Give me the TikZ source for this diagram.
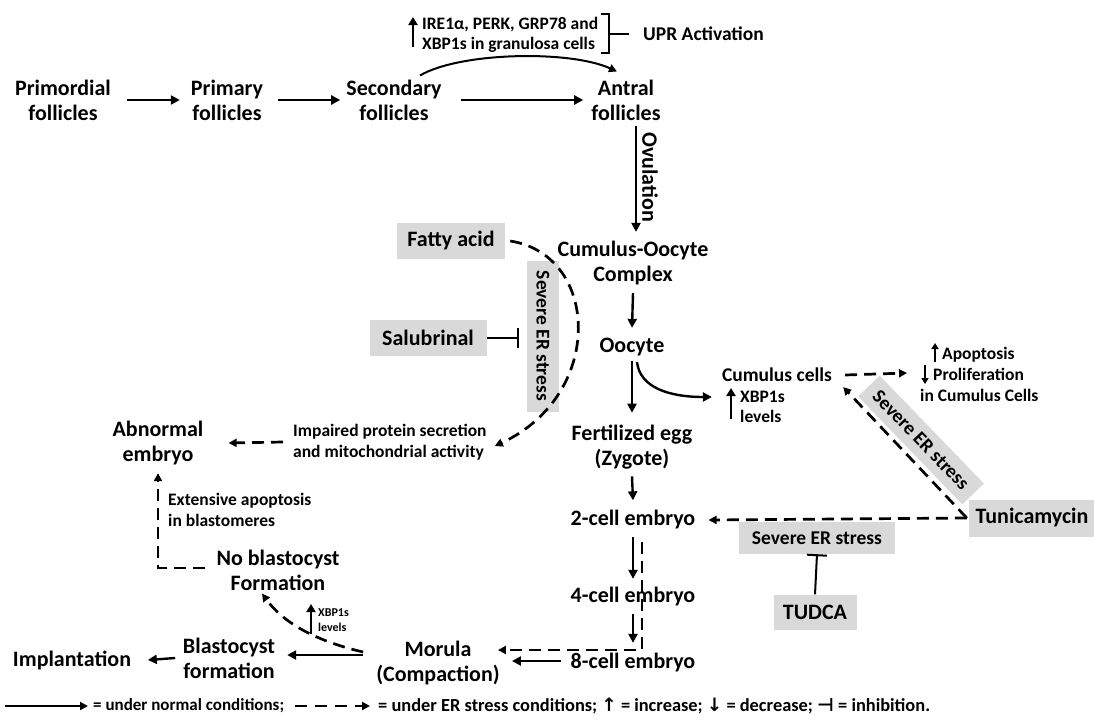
\documentclass[tikz,border=0pt]{standalone}
\usepackage{fontspec}
\setmainfont{Carlito}[BoldFont={Carlito Bold}]
\newfontfamily\symfont{DejaVu Sans}
\usetikzlibrary{arrows.meta}
\definecolor{boxgray}{RGB}{217,217,217}
\begin{document}
\begin{tikzpicture}[x=1pt,y=-1pt,
 every node/.style={inner sep=0pt, align=center},
 big/.style={font=\fontsize{22}{25}\selectfont\bfseries},
 mid/.style={font=\fontsize{19.5}{22}\selectfont\bfseries},
 sm/.style={font=\fontsize{17.5}{20.5}\selectfont\bfseries},
 tiny/.style={font=\fontsize{12}{15.5}\selectfont\bfseries},
 leg/.style={font=\fontsize{17}{20}\selectfont\bfseries},
 legb/.style={font=\fontsize{18.4}{20}\selectfont\bfseries},
 gbox/.style={fill=boxgray},
 arr/.style={line width=2.4pt, -{Triangle[length=9pt,width=9pt]}},
 thinarr/.style={line width=2pt, -{Triangle[length=8pt,width=8pt]}},
 smallup/.style={line width=2.6pt, -{Triangle[length=8pt,width=9pt]}},
 darr/.style={line width=2.7pt, dash pattern=on 12pt off 7pt, -{Triangle[length=8pt,width=8pt]}},
 inh/.style={line width=2pt, -{Bar[width=20pt]}},
]
\useasboundingbox (0,0) rectangle (1094,720);
% ---- follicles row
\node[big] (prim) at (63,100) {Primordial\\follicles};
\node[big] (primary) at (227,100) {Primary\\follicles};
\node[big] (sec) at (394,100) {Secondary\\follicles};
\node[big] (antral) at (626,100) {Antral\\follicles};
\draw[arr] ([xshift=16]prim.east) -- ([xshift=-11]primary.west);
\draw[arr] ([xshift=15]primary.east) -- ([xshift=-6]sec.west);
\draw[arr] ([xshift=19]sec.east) -- ([xshift=-8]antral.west);
\draw[thinarr] ([shift={(26,-4)}]sec.north) .. controls (460,52) and (570,50) .. ([shift={(-9,-8)}]antral.north);
% UPR
\node[sm, anchor=west, align=left] (ire) at (422,35) {IRE1α, PERK, GRP78 and\\XBP1s in granulosa cells};
\coordinate (u1) at (413,47);
\coordinate (u2) at (413,17);
\draw[smallup] (u1) -- (u2);
\draw[line width=1.8pt] (601,14) -- (609,14) -- (609,53) -- (601,53);
\node[mid, anchor=west] (upr) at (643,34) {UPR Activation};
\draw[line width=1.8pt] (609,34) -- (upr.west -| 629,0);
% ovulation
\node[big] (coc) at (633,263) {Cumulus-Oocyte\\Complex};
\draw[arr] ([xshift=10,yshift=-5]antral.south) -- ([xshift=3,yshift=9]coc.north);
\node[big, rotate=-90] (ovl) at (650,177) {Ovulation};
% oocyte
\node[big] (oocyte) at (632,347) {Oocyte};
\draw[arr] ([yshift=-8]coc.south) -- ([yshift=10]oocyte.north);
\node[big] (zyg) at (632,447) {Fertilized egg\\(Zygote)};
\draw[arr] ([yshift=-5]oocyte.south) -- ([yshift=12]zyg.north);
\node[mid] (cum) at (777,375) {Cumulus cells};
\draw[arr] ([xshift=5,yshift=-6]oocyte.south) .. controls (640,388) and (670,397) .. ([shift={(-10,22)}]cum.west);
\node[sm, anchor=west, align=left] (xbp1) at (740,407) {XBP1s\\levels};
\coordinate (x1a) at (731,419);
\coordinate (x1b) at (731,388);
\draw[smallup] (x1a) -- (x1b);
\node[anchor=west, align=left, font=\fontsize{17.5}{21}\selectfont\bfseries] (apop) at (920,374) {\hspace*{22pt}Apoptosis\\\hspace*{13pt}Proliferation\\in Cumulus Cells};
\coordinate (ap1) at (935,362);
\coordinate (ap2) at (935,343);
\draw[line width=1.8pt, -{Triangle[length=6pt,width=7pt]}] (ap1) -- (ap2);
\coordinate (pr1) at (925,365);
\coordinate (pr2) at (925,384);
\draw[line width=1.8pt, -{Triangle[length=6pt,width=7pt]}] (pr1) -- (pr2);
\draw[darr] ([xshift=13]cum.east) -- ([xshift=-13,yshift=1]apop.west);
% Tunicamycin side
\node[mid, gbox, rotate=-46, minimum width=150pt, minimum height=30pt] (ser2) at (921,440) {Severe ER stress};
\node[big, gbox, minimum width=126pt, minimum height=37pt] (tun) at (1032,518) {Tunicamycin};
\node[mid, gbox, minimum width=156pt, minimum height=32pt] (ser3) at (817,538) {Severe ER stress};
\node[big, gbox, minimum width=83pt, minimum height=35pt] (tudca) at (815,612) {TUDCA};
\draw[inh] (tudca.north) -- (ser3.south);
% embryo chain
\node[big] (two) at (633,520) {2-cell embryo};
\node[big] (four) at (633,597) {4-cell embryo};
\node[big] (eight) at (633,663) {8-cell embryo};
\node[big] (mor) at (438,663) {Morula\\(Compaction)};
\draw[darr] ([xshift=-2]tun.west) -- ([shift={(11,12)}]cum.east);
\draw[darr] ([xshift=-2]tun.west) -- ([xshift=13]two.east);
\draw[arr] ([yshift=-7]zyg.south) -- ([yshift=10]two.north);
\draw[arr] ([yshift=-7.5]two.south) -- ([yshift=8.5]four.north);
\draw[arr] ([yshift=-7.5]four.south) -- ([yshift=10.5]eight.north);
\draw[darr] ([shift={(9,12)}]two.south) |- ([shift={(-2,-13)}]mor.east);
\draw[arr] ([xshift=-9.5,yshift=2]eight.west) -- ([xshift=12,yshift=2]mor.east);
% left side
\node[big, gbox, minimum width=108pt, minimum height=36pt] (fatty) at (451,241) {Fatty acid};
\node[big, gbox, minimum width=117pt, minimum height=36pt] (salub) at (428,338) {Salubrinal};
\node[mid, gbox, rotate=-90, minimum width=151pt, minimum height=32pt] (ser1) at (543,336) {Severe ER stress};
\draw[inh, shorten >=8pt] (salub.east) -- (salub.east -| ser1.south);
\node[sm, anchor=west, align=left] (imp) at (293,442) {Impaired protein secretion\\and mitochondrial activity};
\draw[darr] ([xshift=5]fatty.east) .. controls (600,255) and (605,395) .. ([shift={(8,4)}]imp.east);
\node[big] (abn) at (158,443) {Abnormal\\embryo};
\draw[darr] ([xshift=-10]imp.west) -- ([xshift=25]abn.east);
\node[big] (nob) at (278,570) {No blastocyst\\Formation};
\node[sm, anchor=west, align=left] (ext) at (168,510) {Extensive apoptosis\\in blastomeres};
\draw[darr] ([xshift=-11,yshift=2]nob.west) -| ([yshift=-8]abn.south);
\node[big] (bla) at (229,658) {Blastocyst\\formation};
\node[big] (impl) at (72,660) {Implantation};
\draw[arr] ([xshift=-13,yshift=8]mor.west) -- ([xshift=12,yshift=3]bla.east);
\draw[darr] ([xshift=-13,yshift=11]mor.west) .. controls (320,642) and (285,625) .. ([shift={(-16,3)}]nob.south);
\node[tiny, anchor=west, align=left] (xbp2) at (318,620) {XBP1s\\levels};
\coordinate (x2a) at (311,634);
\coordinate (x2b) at (311,604);
\draw[smallup] (x2a) -- (x2b);
\draw[arr] ([xshift=-7.6]bla.west) -- ([xshift=16.6]impl.east);
% legend
\node[leg, anchor=west] (leg1) at (93,706) {= under normal conditions;};
\draw[thinarr] ([xshift=-88]leg1.west) -- ([xshift=-5]leg1.west);
\node[legb, anchor=west] (leg2) at (378,706) {= under ER stress conditions; {\symfont ↑} = increase; {\symfont ↓} = decrease; {\symfont ⊣} = inhibition.};
\draw[line width=2.4pt, dash pattern=on 12pt off 8pt, -{Triangle[length=8pt,width=8pt]}] ([xshift=-83]leg2.west) -- ([xshift=-8]leg2.west);
\end{tikzpicture}
\end{document}
